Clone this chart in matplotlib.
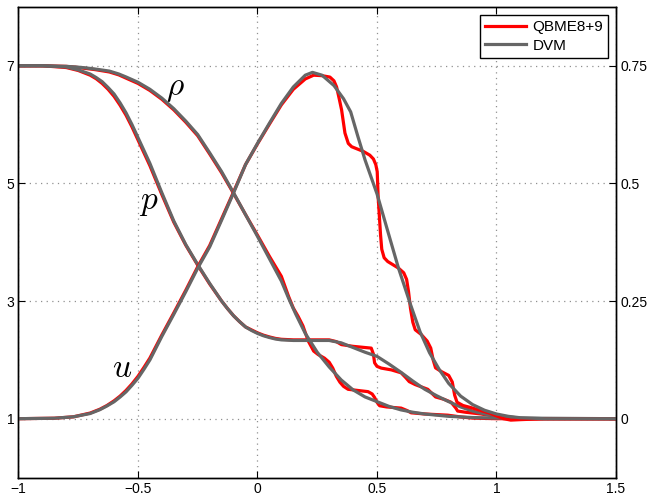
import matplotlib
matplotlib.use("Agg")
import matplotlib.pyplot as plt

plt.rcParams['font.family'] = ['Liberation Sans', 'DejaVu Sans']
plt.rcParams['mathtext.fontset'] = 'cm'

# DVM (grey) curves
rho_x = [-1.0, -0.9, -0.8, -0.76, -0.72, -0.68, -0.62, -0.58, -0.55, -0.5, -0.45, -0.4, -0.35,
         -0.3, -0.25, -0.2, -0.15, -0.1, -0.05, 0.0, 0.05, 0.1, 0.13, 0.16, 0.2, 0.25, 0.3,
         0.35, 0.4, 0.45, 0.5, 0.55, 0.6, 0.65, 0.7, 0.8, 0.9, 1.0, 1.1, 1.5]
rho_y = [7.0, 7.0, 6.99, 6.98, 6.965, 6.945, 6.91, 6.86, 6.81, 6.72, 6.60, 6.45, 6.27,
         6.06, 5.83, 5.52, 5.20, 4.84, 4.47, 4.10, 3.72, 3.34, 3.05, 2.78, 2.45, 2.13, 1.88,
         1.66, 1.49, 1.37, 1.29, 1.21, 1.15, 1.11, 1.08, 1.04, 1.02, 1.01, 1.0, 1.0]

p_x = [-1.0, -0.9, -0.8, -0.75, -0.7, -0.675, -0.65, -0.625, -0.6, -0.575, -0.55, -0.525,
       -0.5, -0.45, -0.4, -0.35, -0.3, -0.25, -0.2, -0.15, -0.125, -0.1, -0.075, -0.05,
       -0.025, 0.0, 0.025, 0.05, 0.075, 0.1, 0.15, 0.2, 0.25, 0.3, 0.35, 0.4, 0.45, 0.5,
       0.55, 0.6, 0.65, 0.7, 0.75, 0.8, 0.85, 0.9, 0.95, 1.0, 1.1, 1.5]
p_y = [7.0, 7.0, 6.98, 6.93, 6.86, 6.80, 6.73, 6.63, 6.52, 6.37, 6.20, 6.00,
       5.78, 5.34, 4.84, 4.36, 3.96, 3.62, 3.30, 3.00, 2.87, 2.75, 2.65, 2.56,
       2.50, 2.45, 2.41, 2.38, 2.355, 2.34, 2.33, 2.33, 2.33, 2.33, 2.29, 2.21, 2.13, 2.06,
       1.93, 1.79, 1.64, 1.50, 1.39, 1.29, 1.20, 1.13, 1.08, 1.05, 1.01, 1.0]

u_x = [-1.0, -0.85, -0.77, -0.7, -0.66, -0.63, -0.6, -0.575, -0.55, -0.525, -0.5, -0.475,
       -0.45, -0.4, -0.35, -0.3, -0.25, -0.2, -0.15, -0.1, -0.05, 0.0, 0.05, 0.1, 0.15, 0.2,
       0.23, 0.27, 0.32, 0.36, 0.39, 0.42, 0.45, 0.5, 0.55, 0.59, 0.64, 0.68, 0.72, 0.76,
       0.8, 0.85, 0.9, 0.95, 1.0, 1.05, 1.1, 1.2, 1.5]
u_y = [0.0, 0.001, 0.004, 0.011, 0.019, 0.027, 0.036, 0.046, 0.057, 0.071, 0.086, 0.105,
       0.125, 0.175, 0.222, 0.27, 0.32, 0.365, 0.422, 0.48, 0.54, 0.585, 0.628, 0.67, 0.705, 0.73,
       0.736, 0.73, 0.708, 0.68, 0.652, 0.60, 0.55, 0.478, 0.39, 0.32, 0.243, 0.185, 0.14, 0.105,
       0.075, 0.048, 0.03, 0.018, 0.01, 0.005, 0.002, 0.0, 0.0]

# QBME8+9 (red) curves
qrho_x = [-1.0, -0.9, -0.8, -0.76, -0.72, -0.68, -0.62, -0.58, -0.55, -0.5, -0.45, -0.4, -0.35,
          -0.3, -0.25, -0.2, -0.15, -0.1, -0.05, 0.0, 0.05, 0.1, 0.13, 0.15, 0.17, 0.19, 0.2125,
          0.235, 0.254, 0.28, 0.3, 0.315, 0.33, 0.345, 0.36, 0.379, 0.42, 0.4625, 0.48, 0.49,
          0.5, 0.511, 0.54, 0.601, 0.625, 0.643, 0.7, 0.796, 0.85, 0.9, 1.0, 1.5]
qrho_y = [7.0, 7.0, 6.99, 6.975, 6.955, 6.935, 6.895, 6.845, 6.79, 6.70, 6.58, 6.43, 6.25,
          6.04, 5.81, 5.50, 5.18, 4.83, 4.47, 4.12, 3.76, 3.42, 3.08, 2.88, 2.74, 2.58, 2.32,
          2.15, 2.09, 2.03, 1.96, 1.86, 1.72, 1.62, 1.55, 1.50, 1.48, 1.46, 1.42, 1.36,
          1.28, 1.22, 1.20, 1.18, 1.14, 1.10, 1.08, 1.06, 1.03, 1.01, 1.0, 1.0]

qp_x = [-1.0, -0.9, -0.8, -0.75, -0.7, -0.675, -0.65, -0.625, -0.6, -0.575, -0.55, -0.525,
        -0.5, -0.45, -0.4, -0.35, -0.3, -0.25, -0.2, -0.15, -0.125, -0.1, -0.075, -0.05,
        -0.025, 0.0, 0.025, 0.05, 0.075, 0.1, 0.15, 0.2, 0.25, 0.3, 0.33, 0.351, 0.4, 0.45,
        0.476, 0.485, 0.49, 0.5, 0.518, 0.56, 0.601, 0.62, 0.635, 0.66, 0.7125, 0.73, 0.745,
        0.78, 0.81, 0.83, 0.8375, 0.87, 0.935, 1.0, 1.05, 1.1, 1.5]
qp_y = [7.0, 7.0, 6.97, 6.92, 6.84, 6.78, 6.70, 6.60, 6.48, 6.33, 6.16, 5.96,
        5.74, 5.30, 4.81, 4.34, 3.95, 3.61, 3.29, 3.00, 2.87, 2.75, 2.65, 2.56,
        2.51, 2.46, 2.42, 2.39, 2.365, 2.35, 2.34, 2.34, 2.34, 2.34, 2.31, 2.26, 2.23, 2.21,
        2.20, 2.10, 1.95, 1.89, 1.86, 1.83, 1.78, 1.70, 1.63, 1.58, 1.50, 1.43, 1.37,
        1.33, 1.28, 1.18, 1.13, 1.11, 1.08, 1.04, 1.01, 1.0, 1.0]

qu_x = [-1.0, -0.85, -0.77, -0.7, -0.66, -0.63, -0.6, -0.575, -0.55, -0.525, -0.5, -0.475,
        -0.45, -0.4, -0.35, -0.3, -0.25, -0.2, -0.15, -0.1, -0.05, 0.0, 0.05, 0.1, 0.15, 0.2,
        0.235, 0.27, 0.303, 0.32, 0.331, 0.342, 0.352, 0.366, 0.38, 0.394, 0.443, 0.47, 0.485,
        0.495, 0.501, 0.505, 0.51, 0.515, 0.52, 0.53, 0.545, 0.59, 0.612, 0.624, 0.632, 0.64,
        0.65, 0.66, 0.685, 0.71, 0.725, 0.735, 0.745, 0.77, 0.8, 0.815, 0.825, 0.835, 0.86,
        0.89, 0.93, 0.97, 1.0, 1.03, 1.06, 1.1, 1.2, 1.5]
qu_y = [0.0, 0.001, 0.004, 0.012, 0.02, 0.028, 0.038, 0.048, 0.06, 0.074, 0.09, 0.109,
        0.129, 0.178, 0.225, 0.273, 0.323, 0.368, 0.425, 0.482, 0.54, 0.584, 0.626, 0.667, 0.7, 0.722,
        0.73, 0.729, 0.726, 0.718, 0.705, 0.68, 0.656, 0.607, 0.585, 0.578, 0.568, 0.56, 0.552,
        0.54, 0.525, 0.47, 0.43, 0.39, 0.36, 0.342, 0.334, 0.32, 0.31, 0.296, 0.27, 0.235,
        0.205, 0.189, 0.179, 0.165, 0.15, 0.125, 0.108, 0.1, 0.092, 0.078, 0.05, 0.035, 0.028,
        0.024, 0.018, 0.012, 0.006, 0.0, -0.003, -0.002, 0.0, 0.0]

xticks = [-1, -0.5, 0, 0.5, 1, 1.5]
xtick_labels = ['\u22121', '\u22120.5', '0', '0.5', '1', '1.5']
yticks_left = [1, 3, 5, 7]
yticks_right = [0, 0.25, 0.5, 0.75]
yticks_right_labels = ['0', '0.25', '0.5', '0.75']

red = '#ff0000'
grey = '#666666'
lw = 2.3

fig = plt.figure(figsize=(6.48, 4.97), dpi=100)
ax = fig.add_axes([0.0285, 0.0392, 0.9221, 0.9468])
ax2 = ax.twinx()

l1, = ax.plot(qrho_x, qrho_y, color=red, lw=lw, label='QBME8+9')
ax.plot(qp_x, qp_y, color=red, lw=lw)
ax2.plot(qu_x, qu_y, color=red, lw=lw)
l2, = ax.plot(rho_x, rho_y, color=grey, lw=lw, label='DVM')
ax.plot(p_x, p_y, color=grey, lw=lw)
ax2.plot(u_x, u_y, color=grey, lw=lw)

ax.set_xlim(-1, 1.5)
ax.set_ylim(0, 8)
ax2.set_ylim(-0.125, 0.875)

ax.set_xticks(xticks)
ax.set_xticklabels(xtick_labels)
ax.set_yticks(yticks_left)
ax2.set_yticks(yticks_right)
ax2.set_yticklabels(yticks_right_labels)

ax.grid(True, color='#909090', linestyle=(0, (1, 3.5)), linewidth=0.9)
ax.tick_params(direction='in', length=5, top=True, right=False, labelsize=10, pad=3)
ax2.tick_params(direction='in', length=5, labelsize=10, pad=3)
for a in (ax, ax2):
    for s in a.spines.values():
        s.set_linewidth(1.0)

ax.text(-0.345, 6.62, r'$\rho$', fontsize=24, ha='center', va='center')
ax.text(-0.453, 4.67, r'$p$', fontsize=24, ha='center', va='center')
ax.text(-0.568, 1.86, r'$u$', fontsize=24, ha='center', va='center')

leg = ax2.legend(handles=[l1, l2], loc='upper right', fontsize=11, fancybox=False,
                 edgecolor='black', framealpha=1, handlelength=2.7, borderaxespad=0.5,
                 borderpad=0.35, labelspacing=0.3, handletextpad=0.4)
leg.get_frame().set_linewidth(1.0)

fig.savefig('out.png', dpi=100)
